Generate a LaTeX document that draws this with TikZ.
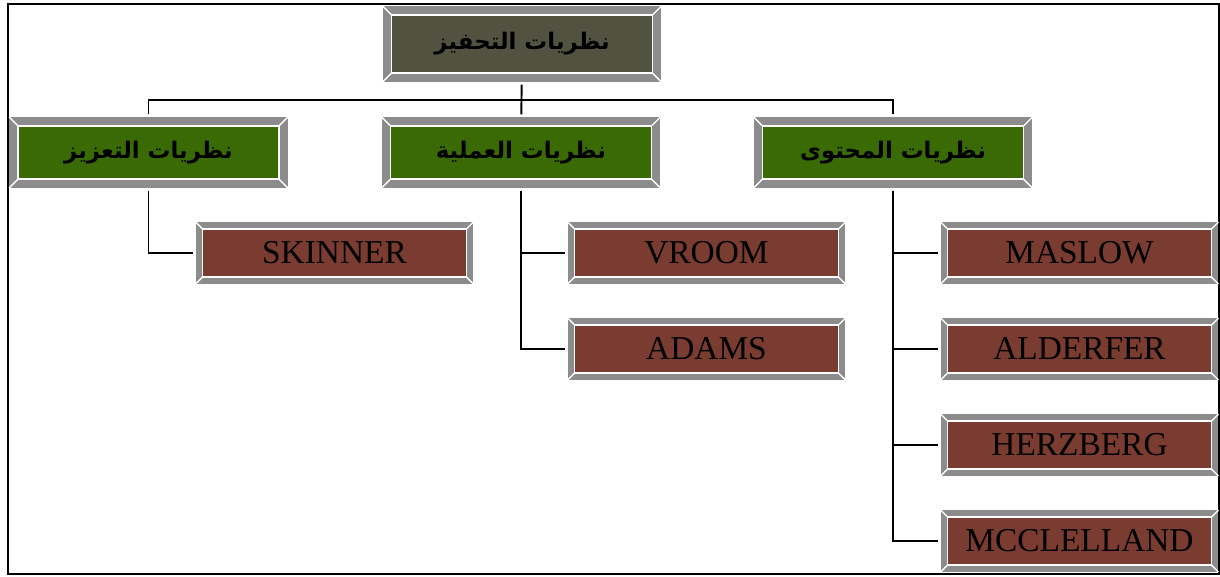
\documentclass[tikz,border=0pt]{standalone}
\usepackage{fontspec}
\setmainfont{Liberation Serif}
\newfontfamily\arabicfont[Script=Arabic]{DejaVu Sans}
\TeXXeTstate=1
\usetikzlibrary{backgrounds}
\definecolor{bevgray}{RGB}{140,140,140}
\definecolor{topfill}{RGB}{82,82,64}
\definecolor{grpfill}{RGB}{58,106,4}
\definecolor{leaffill}{RGB}{122,60,48}

\begin{document}
\begin{tikzpicture}[x=0.02cm, y=-0.02cm,
  face/.style={draw=white, line width=0.8pt, inner sep=0pt, text=black},
  topbox/.style={face, fill=topfill, minimum width=5.22cm, minimum height=1.16cm, outer sep=0.18cm,
    font=\arabicfont\bfseries\fontsize{13}{16}\selectfont},
  grpbox/.style={face, fill=grpfill, minimum width=5.22cm, minimum height=1.06cm, outer sep=0.18cm,
    font=\arabicfont\bfseries\fontsize{13}{16}\selectfont},
  leafbox/.style={face, fill=leaffill, minimum width=5.28cm, minimum height=0.96cm, outer sep=0.14cm,
    font=\fontsize{19}{22}\selectfont},
  conn/.style={line width=1.1pt, shorten <=1.5pt, shorten >=1.5pt}]
\useasboundingbox (0,0) rectangle (1220,576);

\node[topbox] (motiv) at (522,44) {\beginR نظريات التحفيز\endR};

\node[grpbox] (reinf) at (148.5,152.5) {\beginR نظريات التعزيز\endR};
\node[grpbox] (process) at (521,152.5) {\beginR نظريات العملية\endR};
\node[grpbox] (content) at (893,152.5) {\beginR نظريات المحتوى\endR};

\node[leafbox] (skinner) at (334.5,253) {SKINNER};
\node[leafbox] (vroom) at (706.5,253) {VROOM};
\node[leafbox] (adams) at (706.5,349) {ADAMS};
\node[leafbox] (maslow) at (1079.5,253) {MASLOW};
\node[leafbox] (alderfer) at (1079.5,349) {ALDERFER};
\node[leafbox] (herzberg) at (1079.5,445) {HERZBERG};
\node[leafbox] (mcclelland) at (1079.5,541) {MCCLELLAND};

% bevel frames behind the faces
\begin{scope}[on background layer]
\draw[line width=1.5pt] (8,4) rectangle (1219,574);
\foreach \n/\b in {motiv/9,reinf/9,process/9,content/9,skinner/7,vroom/7,adams/7,
                   maslow/7,alderfer/7,herzberg/7,mcclelland/7}{
  \fill[bevgray] (\n.south west) rectangle (\n.north east);
  \draw[white, line width=0.8pt] (\n.south west) -- ++(\b,-\b)
    (\n.north west) -- ++(\b,\b) (\n.north east) -- ++(-\b,\b)
    (\n.south east) -- ++(-\b,-\b);
}
\end{scope}

% tree lines
\coordinate (bus) at (521,100);
\draw[conn] (motiv) -- (process);
\draw[conn] (reinf.north) |- (bus) -| (content.north);
\draw[conn] (reinf.south) |- (skinner.west);
\draw[conn] (process.south) |- (vroom.west);
\draw[conn] (process.south) |- (adams.west);
\draw[conn] (content.south) |- (maslow.west);
\draw[conn] (content.south) |- (alderfer.west);
\draw[conn] (content.south) |- (herzberg.west);
\draw[conn] (content.south) |- (mcclelland.west);
\end{tikzpicture}
\end{document}
